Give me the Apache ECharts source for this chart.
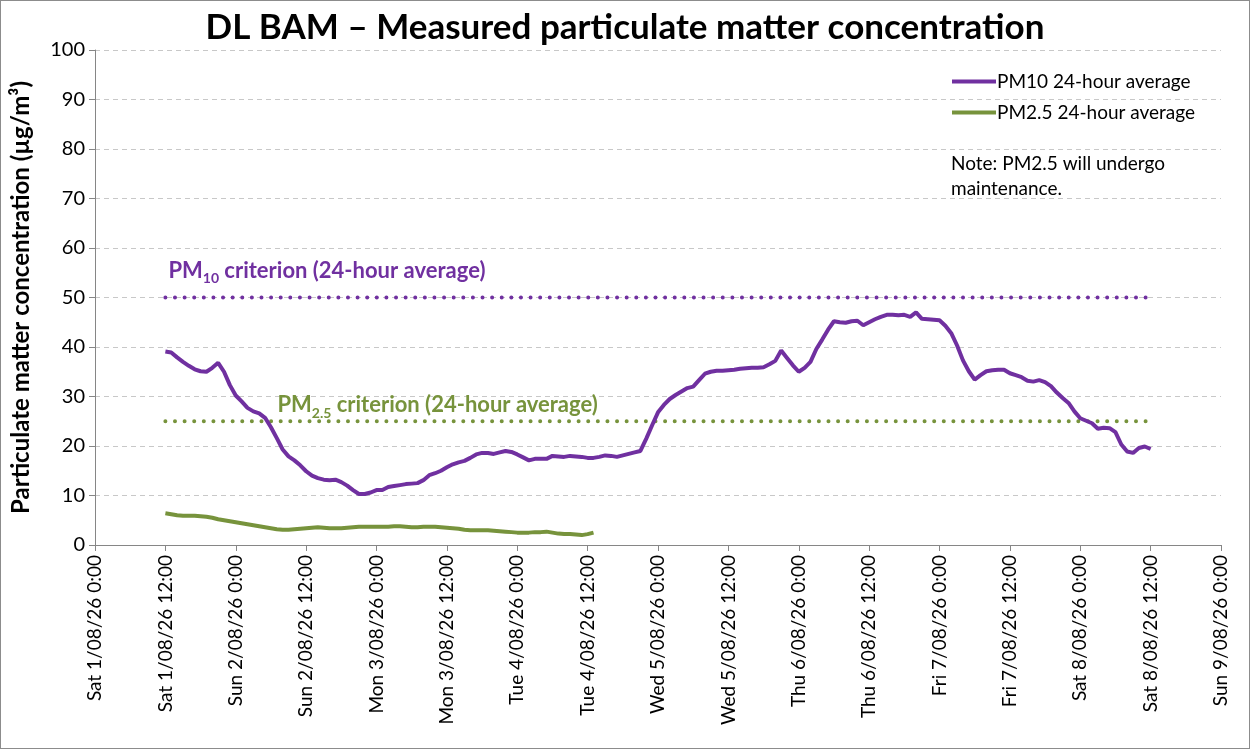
<!DOCTYPE html>
<html>
<head>
<meta charset="utf-8">
<script src="https://cdn.jsdelivr.net/npm/echarts@6/dist/echarts.min.js"></script>
<style>
html,body{margin:0;padding:0;background:#fff;}
#c{width:1248px;height:747px;border:1px solid #8c8c8c;}
</style>
</head>
<body>
<div id="c"></div>
<script>
// Hours since Sat 1/08/26 0:00
const xTickLabels = [
  'Sat 1/08/26 0:00','Sat 1/08/26 12:00','Sun 2/08/26 0:00','Sun 2/08/26 12:00',
  'Mon 3/08/26 0:00','Mon 3/08/26 12:00','Tue 4/08/26 0:00','Tue 4/08/26 12:00',
  'Wed 5/08/26 0:00','Wed 5/08/26 12:00','Thu 6/08/26 0:00','Thu 6/08/26 12:00',
  'Fri 7/08/26 0:00','Fri 7/08/26 12:00','Sat 8/08/26 0:00','Sat 8/08/26 12:00',
  'Sun 9/08/26 0:00'
];
const pm10Start = 12; // hourly values from Sat 1/08 12:00
const pm10 = [
  39.1,38.9,37.9,37.0,36.2,35.5,35.1,35.0,35.8,36.8,35.0,32.3,30.2,29.0,27.7,27.0,
  26.6,25.7,23.8,21.6,19.3,17.9,17.1,16.1,14.9,14.0,13.5,13.2,13.1,13.2,12.7,12.0,
  11.1,10.3,10.3,10.6,11.1,11.1,11.7,11.9,12.1,12.3,12.4,12.5,13.1,14.1,14.5,15.0,
  15.7,16.3,16.7,17.0,17.6,18.3,18.6,18.6,18.4,18.7,19.0,18.8,18.3,17.7,17.1,17.4,
  17.4,17.4,18.0,17.9,17.8,18.0,17.9,17.8,17.6,17.6,17.8,18.1,18.0,17.8,18.1,18.4,
  18.7,19.0,21.5,24.2,26.8,28.3,29.5,30.3,31.0,31.7,32.0,33.3,34.6,35.0,35.2,35.2,
  35.3,35.4,35.6,35.7,35.8,35.8,35.9,36.5,37.2,39.3,37.8,36.3,35.0,35.8,37.0,39.6,
  41.5,43.5,45.2,45.0,44.9,45.2,45.3,44.4,45.0,45.6,46.1,46.5,46.5,46.4,46.5,46.1,
  47.0,45.7,45.6,45.5,45.4,44.3,42.8,40.3,37.3,35.1,33.4,34.3,35.1,35.3,35.4,35.4,
  34.7,34.3,33.9,33.2,33.0,33.3,32.9,32.1,30.8,29.7,28.7,27.0,25.6,25.1,24.6,23.5,
  23.7,23.6,22.8,20.3,18.9,18.6,19.6,19.9,19.4
];
const pm25Start = 12;
const pm25 = [
  6.4,6.2,6.0,5.9,5.9,5.9,5.8,5.7,5.5,5.2,5.0,4.8,4.6,4.4,4.2,4.0,
  3.8,3.6,3.4,3.2,3.1,3.1,3.2,3.3,3.4,3.5,3.6,3.5,3.4,3.4,3.4,3.5,
  3.6,3.7,3.7,3.7,3.7,3.7,3.7,3.8,3.8,3.7,3.6,3.6,3.7,3.7,3.7,3.6,
  3.5,3.4,3.3,3.1,3.0,3.0,3.0,3.0,2.9,2.8,2.7,2.6,2.5,2.5,2.5,2.6,
  2.6,2.7,2.5,2.3,2.2,2.2,2.1,2.0,2.2,2.5
];
const pm10Criterion = 50;
const pm25Criterion = 25;
const criterionSpan = [12, 180];

const purple = '#7030A0';
const green = '#77933C';
const font = 'Lato';

function toPairs(start, arr){ return arr.map((v,i)=>[start+i, v]); }

function critRich(color){
  return {
    a:{fontFamily:font, fontWeight:'bold', fontSize:22, color:color, lineHeight:30, verticalAlign:'middle'},
    s:{fontFamily:font, fontWeight:'bold', fontSize:14, color:color, lineHeight:12, verticalAlign:'bottom'}
  };
}

const chart = echarts.init(document.getElementById('c'));
chart.setOption({
  animation:false,
  textStyle:{fontFamily:font},
  title:{
    text:'DL BAM \u2013 Measured particulate matter concentration',
    left:'center', top:4,
    textStyle:{fontFamily:font, fontWeight:'bold', fontSize:35, color:'#000'}
  },
  grid:{left:91, right:28, top:49, bottom:203},
  legend:{
    orient:'vertical', left:946, top:66, itemGap:12,
    itemWidth:44, itemHeight:4, icon:'rect',
    textStyle:{fontFamily:font, fontSize:19, color:'#000', padding:[0,0,0,-4]},
    data:['PM10 24-hour average','PM2.5 24-hour average']
  },
  graphic:[{
    type:'text', left:950, top:150,
    style:{text:'Note: PM2.5 will undergo\nmaintenance.', font:'19px Lato', fill:'#000', lineHeight:25}
  }],
  xAxis:{
    type:'value', min:0, max:192, interval:12,
    axisLine:{lineStyle:{color:'#868686', width:1}},
    axisTick:{show:true, length:6, lineStyle:{color:'#868686'}},
    splitLine:{show:false},
    axisLabel:{rotate:90, fontSize:19, color:'#000', fontFamily:font, margin:10,
      formatter:v=>xTickLabels[Math.round(v/12)]}
  },
  yAxis:{
    type:'value', min:0, max:100, interval:10,
    name:'Particulate matter concentration (\u00b5g/m\u00b3)',
    nameLocation:'middle', nameGap:62, nameRotate:90,
    nameTextStyle:{fontFamily:font, fontWeight:'bold', fontSize:24, color:'#000'},
    axisLine:{show:true, lineStyle:{color:'#868686'}},
    axisTick:{show:true, length:6, lineStyle:{color:'#868686'}},
    splitLine:{lineStyle:{type:[5,4], color:'#c8c8c8'}},
    axisLabel:{fontSize:20, color:'#000', fontFamily:font, margin:10}
  },
  series:[
    {
      name:'PM10 criterion', type:'line', symbol:'none', silent:true,
      data:criterionSpan.map(h=>[h,pm10Criterion]),
      lineStyle:{color:purple, width:4, type:[0.01,9.6], cap:'round'},
      markPoint:{
        symbol:'rect', symbolSize:0, silent:true,
        data:[{coord:[criterionSpan[0], pm10Criterion]}],
        label:{show:true, position:'right', offset:[-2,-27],
          formatter:'{a|PM}{s|10}{a| criterion (24-hour average)}',
          rich:critRich(purple)}
      }
    },
    {
      name:'PM2.5 criterion', type:'line', symbol:'none', silent:true,
      data:criterionSpan.map(h=>[h,pm25Criterion]),
      lineStyle:{color:green, width:4, type:[0.01,9.6], cap:'round'},
      markPoint:{
        symbol:'rect', symbolSize:0, silent:true,
        data:[{coord:[criterionSpan[0], pm25Criterion]}],
        label:{show:true, position:'right', offset:[107,-16],
          formatter:'{a|PM}{s|2.5}{a| criterion (24-hour average)}',
          rich:critRich(green)}
      }
    },
    {
      name:'PM10 24-hour average', type:'line', symbol:'none',
      data:toPairs(pm10Start, pm10), color:purple,
      lineStyle:{color:purple, width:4}, z:5
    },
    {
      name:'PM2.5 24-hour average', type:'line', symbol:'none',
      data:toPairs(pm25Start, pm25), color:green,
      lineStyle:{color:green, width:4}, z:5
    }
  ]
});
</script>
</body>
</html>
